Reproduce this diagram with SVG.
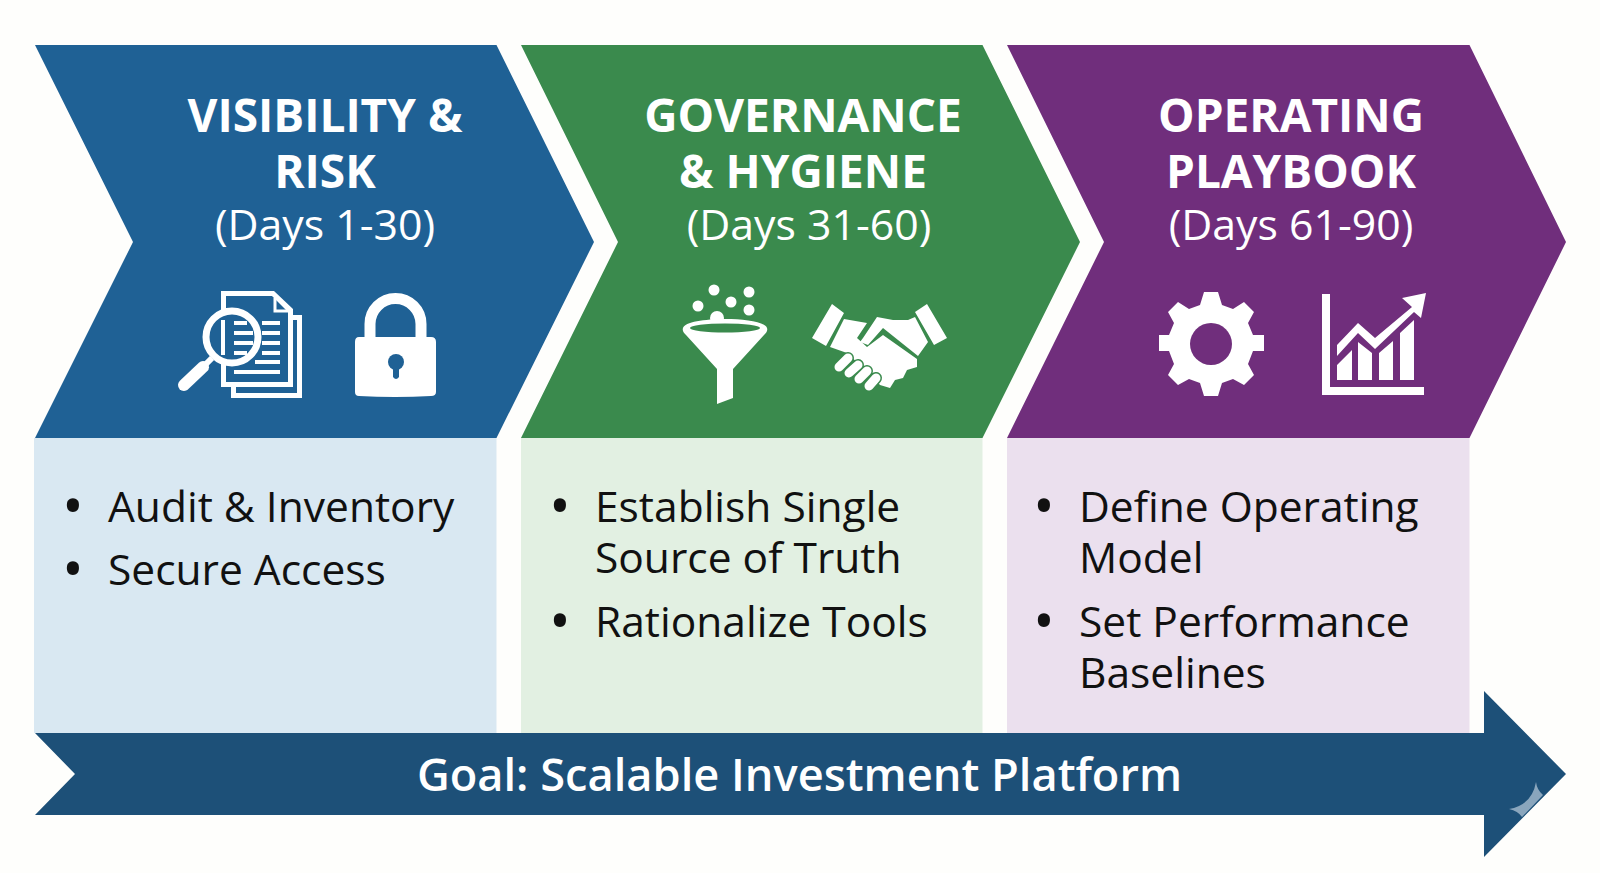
<svg xmlns="http://www.w3.org/2000/svg" width="1600" height="873" viewBox="0 0 1600 873">
<defs>
<style>
text{font-family:"Open Sans","Noto Sans",sans-serif}
.t{font-size:46px;font-weight:700;fill:#fff;text-anchor:middle}
.d{font-size:42.800px;fill:#fff;text-anchor:middle}
.b{font-size:42.500px;fill:#111}
.o{font-size:58px}
.w{fill:#fff}
</style>
</defs>
<rect width="1600" height="873" fill="#fefefc"/>
<g id="visibility">
<rect x="34" y="438" width="462.500" height="295" fill="#d9e8f2"/>
<path d="M35 45H496.500L594 242L496.500 438H35L133 242Z" fill="#1f6195"/>
<text class="t" x="325" y="132">VISIBILITY &amp;</text>
<text class="t" x="325" y="188">RISK</text>
<text class="d" x="325" y="240">(Days 1-30)</text>
<g id="icon-doc" class="w">
<path d="M221 291H274L293 309V387H221ZM226 296V382H288V312L272 296Z" fill-rule="evenodd"/>
<path d="M288 315H302V398H231V387H236V393H297V320H288Z"/>
<path d="M275 298V311H289" fill="none" stroke="#fff" stroke-width="3"/>
<path d="M262 321H280V325H262ZM262 331H280V335H262ZM262 341H280V345H262ZM262 351H280V355H262ZM255 360H280V364H255ZM234 370H280V374H234Z"/>
<circle cx="232" cy="337" r="27" fill="#1f6195"/>
<path d="M234 321H247V325H234ZM234 331H253V335H234ZM234 341H253V345H234ZM234 351H247V355H234Z"/>
<path d="M221 320H225V355H221Z"/>
<circle cx="232" cy="337" r="26" fill="none" stroke="#fff" stroke-width="7"/>
<path d="M212 358L203 367" stroke="#fff" stroke-width="6"/>
<path d="M203 367L184 385" stroke="#fff" stroke-width="12" stroke-linecap="round"/>
</g>
<g id="icon-lock">
<path d="M370 337V324A25.500 25.500 0 0 1 421 324V337" fill="none" stroke="#fff" stroke-width="11"/>
<path d="M359 337H431Q436 337 436 342V392Q436 396 431 396Q395 398 359 396Q355 396 355 392V342Q355 337 359 337Z" fill="#fff"/>
<circle cx="396" cy="362" r="8" fill="#1f6195"/>
<path d="M393 364H399V377Q396 381 393 377Z" fill="#1f6195"/>
</g>
<text class="b"><tspan class="o" x="62" y="527">•</tspan><tspan x="108" y="522">Audit &amp; Inventory</tspan><tspan class="o" x="62" y="590">•</tspan><tspan x="108" y="585">Secure Access</tspan></text>
</g>
<g id="governance">
<rect x="521" y="438" width="461.500" height="295" fill="#e2f0e2"/>
<path d="M521 45H982.500L1080 242L982.500 438H521L618 242Z" fill="#3a8a4d"/>
<text class="t" x="803" y="132">GOVERNANCE</text>
<text class="t" x="803" y="188">&amp; HYGIENE</text>
<text class="d" x="809" y="240">(Days 31-60)</text>
<g id="icon-funnel" class="w">
<circle cx="714" cy="290" r="5.500"/><circle cx="749" cy="292" r="5.500"/><circle cx="698" cy="306" r="5.500"/><circle cx="731" cy="302" r="5.500"/><circle cx="749" cy="310" r="5.500"/><circle cx="717" cy="318" r="7"/>
<path d="M683 328C686 316 764 316 767 328C768 331 766 333 764 335L733 369V398L717 404V369L686 335C684 333 682 331 683 328Z"/>
<ellipse cx="725" cy="328" rx="35" ry="4.500" fill="#3a8a4d"/>
</g>
<g id="icon-handshake" class="w">
<path d="M832 304L844 313L826 346L812 338ZM927 304L947 338L934 345L915 312Z"/>
<path d="M830 347L844 319L867 323L857 338L867 347L883 335L917 359L917 367L907 370L903 378L895 380L890 388L880 385L873 377L847 353Z"/>
<path d="M863 338L877 317L893 320L908 320L915 317L928 342L918 356L883 328L868 345L860 342Z"/>
<path d="M839 367L848 358M849 373L858 365M859 379L867 371M869 386L876 378" stroke="#3a8a4d" stroke-width="12" stroke-linecap="round"/>
<path d="M839 367L848 358M849 373L858 365M859 379L867 371M869 386L876 378" stroke="#fff" stroke-width="9" stroke-linecap="round"/>
</g>
<text class="b"><tspan class="o" x="549" y="527">•</tspan><tspan x="595" y="522">Establish Single</tspan><tspan x="595" y="573">Source of Truth</tspan><tspan class="o" x="549" y="642">•</tspan><tspan x="595" y="637">Rationalize Tools</tspan></text>
</g>
<g id="playbook">
<rect x="1007" y="438" width="462.500" height="295" fill="#ebe0ee"/>
<path d="M1007 45H1469.500L1566 242L1469.500 438H1007L1104 242Z" fill="#702e7c"/>
<text class="t" x="1291" y="132">OPERATING</text>
<text class="t" x="1291" y="188">PLAYBOOK</text>
<text class="d" x="1291" y="240">(Days 61-90)</text>
<g id="icon-gear">
<path d="M1204 292H1218L1222 305L1233 309L1244 302L1254 312L1248 323L1253 335H1264V351H1253L1248 364L1254 375L1244 385L1233 379L1222 383L1218 396H1204L1200 383L1189 379L1178 385L1168 375L1174 364L1169 351H1159V335H1169L1174 323L1168 312L1178 302L1189 309L1200 305Z" fill="#fff"/>
<circle cx="1211" cy="344" r="21" fill="#702e7c"/>
</g>
<g id="icon-chart" class="w">
<path d="M1322 294H1330V387H1424V395H1322Z"/>
<path d="M1337 365L1352 350V380H1337ZM1358 342L1372 353V380H1358ZM1379 353L1393 341V380H1379ZM1400 333L1414 320V380H1400Z"/>
<path d="M1337 345L1358 323L1375 338L1412 307L1402 298L1426 293L1421 318L1414 312L1375 349L1358 333L1337 356Z"/>
</g>
<text class="b"><tspan class="o" x="1033" y="527">•</tspan><tspan x="1079" y="522">Define Operating</tspan><tspan x="1079" y="573">Model</tspan><tspan class="o" x="1033" y="642">•</tspan><tspan x="1079" y="637">Set Performance</tspan><tspan x="1079" y="688">Baselines</tspan></text>
</g>
<g id="connectors">
<path d="M35 733H1484V691L1566 774L1484 857V815H35L75 774Z" fill="#1d5078"/>
<path d="M1536 782Q1532 805 1509 809Q1518 811 1522 817L1543 795Q1537 790 1536 782Z" fill="#8aa6bd"/>
</g>
<g id="goal"><text x="799.500" y="791" text-anchor="middle" font-size="45.200" font-weight="600" fill="#fff">Goal: Scalable Investment Platform</text></g>
</svg>
